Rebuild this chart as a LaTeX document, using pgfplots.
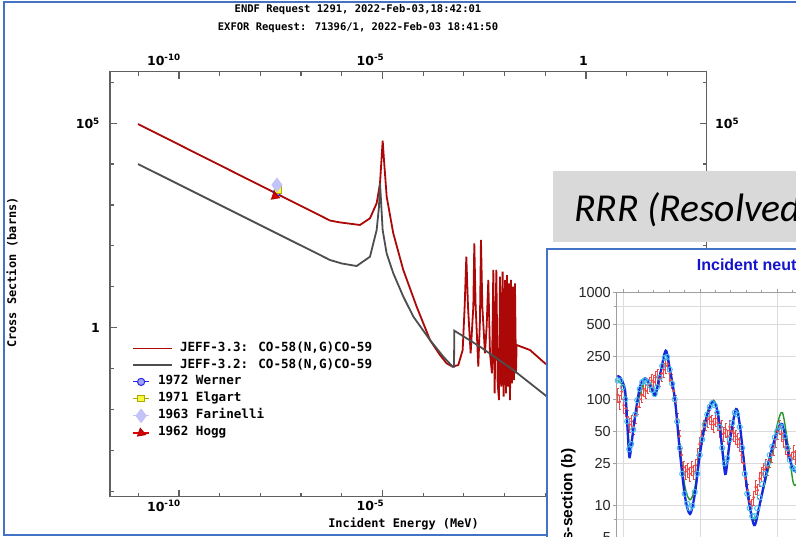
\documentclass[border=0pt]{standalone}
\usepackage{pgfplots}
\usepackage{pgfplotstable}
\pgfplotsset{compat=1.18}
\usepackage{fontspec}
\setmainfont{DejaVu Sans}
\newfontfamily\monofam{DejaVu Sans Mono}
\newfontfamily\tickfam{DejaVu Sans}
\newfontfamily\arialfam{Liberation Sans}
\newfontfamily\calfam{Carlito}
\definecolor{jeffred}{RGB}{172,8,8}
\definecolor{jeffgray}{RGB}{78,78,78}
\definecolor{axgray}{RGB}{96,96,96}
\definecolor{frameblue}{RGB}{68,114,196}
\definecolor{boxgray}{RGB}{217,217,217}
\definecolor{insetblue}{RGB}{20,20,205}
\definecolor{curveblue}{RGB}{20,40,220}
\definecolor{curvegreen}{RGB}{40,150,40}
\definecolor{circcyan}{RGB}{70,190,240}
\definecolor{ptred}{RGB}{240,70,70}
\definecolor{wernerblue}{RGB}{40,40,235}
\definecolor{wernerfill}{RGB}{160,160,255}
\definecolor{elgartfill}{RGB}{250,250,60}
\definecolor{elgartdraw}{RGB}{170,170,0}
\definecolor{farlav}{RGB}{195,195,250}
\definecolor{hoggred}{RGB}{225,0,0}

\pgfplotsset{
  longline legend/.style={legend image code/.code={\draw[##1] (0bp,0bp) -- (38.4bp,0bp);}},
  shortmark legend/.style={legend image code/.code={\draw[##1, mark repeat=2, mark phase=2] plot coordinates {(0bp,0bp) (7.7bp,0bp) (15.4bp,0bp)};}},
}

% JEFF-3.3 (log10 E [MeV], log10 sigma [b])
\pgfplotstableread{
lx ly
-11.007 4.980
-6.500 2.726
-6.290 2.620
-6.050 2.575
-5.880 2.553
-5.553 2.511
-5.307 2.675
-5.143 3.042
-5.061 3.531
-5.020 4.181
-4.995 4.572
-4.963 4.100
-4.897 3.203
-4.735 2.308
-4.489 1.411
-4.160 0.513
-3.833 -0.301
-3.587 -0.668
-3.424 -0.872
-3.276 -0.953
-3.137 -0.912
-3.030 -0.546
-2.981 0.514
-2.940 1.737
-2.899 0.514
-2.834 -0.627
-2.768 0.514
-2.744 2.062
-2.711 0.514
-2.646 -0.953
-2.605 0.188
-2.580 2.144
-2.547 0.514
-2.482 -0.627
-2.441 0.025
-2.400 1.166
-2.359 -0.627
-2.310 -1.116
-2.277 1.411
-2.244 -1.605
-2.203 1.411
-2.170 -1.361
-2.138 -1.768
-2.113 1.247
-2.080 -1.442
-2.048 1.370
-2.023 -1.686
-1.990 1.166
-1.966 -1.605
-1.941 1.288
-1.917 -1.442
-1.892 1.084
-1.867 -1.768
-1.843 1.166
-1.818 -1.361
-1.794 1.003
-1.769 -1.279
-1.745 1.084
-1.720 -1.116
-1.704 -0.423
-1.376 -0.546
-1.007 -0.871
-0.300 -1.300
}\redtab

% JEFF-3.2
\pgfplotstableread{
lx ly
-11.007 4.002
-6.500 1.760
-6.290 1.655
-6.000 1.570
-5.635 1.508
-5.307 1.736
-5.143 2.389
-5.086 2.959
-5.061 3.530
-5.037 3.122
-4.996 2.389
-4.898 1.818
-4.734 1.329
-4.488 0.759
-4.242 0.270
-3.833 -0.301
-3.505 -0.709
-3.276 -0.953
-3.243 -0.953
-3.235 -0.073
-2.605 -0.464
-1.786 -1.034
-1.007 -1.646
-0.300 -2.200
}\graytab

% inset curves (x in axis units, y in barns)
\pgfplotstableread{
x y
0.7 163
3.3 161
8.3 122
10.7 55.5
12.7 28.6
15.3 41.6
18.3 68.8
23.3 131
28.3 157
33.3 139
38.3 110
43.3 169
49 286
53.3 188
58.3 98.6
63.3 31.2
68.3 12.2
73.3 8.4
78.3 13.2
83.3 31.2
90 68.8
96.7 95
101.7 68.8
106.7 27
109 20
113.3 41.6
119.3 80.6
123.3 55.5
130 15.2
135 7.94
138.3 6.63
143.3 10.6
153.3 29
160 48
165.7 58.3
171.7 31.2
176.7 21.8
181.7 21.8
190 30
}\bluetab

\pgfplotstableread{
x y
0.7 150
5 140
8.3 110
12.7 36
16 48
20 85
28.3 150
33.3 135
38.3 107
43.3 165
49 270
53.3 180
58.3 95
63.3 35
68.3 15
73.3 11.4
78.3 15
83.3 35
90 72
96.7 98
101.7 72
106.7 30
109 22
113.3 42
119.3 82
123.3 56
130 16
136 7.6
140 8.2
148 16
155 30
160 55
165.7 75
171.7 35
176.7 16.3
181.7 17
190 25
}\greentab

\pgfplotstableread{
x y
1 150
3.5 150
6 130
8.5 100
10.5 62
12.5 34
14.5 38
16.5 52
18.5 72
20.5 98
23 125
25.5 145
28 150
30.5 145
33 135
35.5 122
38 112
40.5 130
43 160
45.5 205
48 245
50.5 250
53 190
55.5 140
58 100
60.5 62
63 35
65.5 20
68 13
70.5 10.5
73 9.5
75.5 10
78 13.5
80.5 20
83 30
85.5 42
88 58
90.5 72
93 85
95.5 92
98 88
100.5 75
103 55
105.5 35
108 25
110.5 28
113 42
115.5 60
118 75
120.5 72
123 55
125.5 35
128 20
130.5 13
133 9.5
135.5 8
138 8
140.5 9.5
143 12
145.5 16
148 20
150.5 25
153 30
155.5 36
158 44
160.5 50
163 56
165.5 55
168 45
170.5 35
173 27
175.5 23
178 22
180.5 22
}\cyantab

\pgfplotstableread{
x y
1 110
3 95
5 118
7 88
9 82
11 68
13 58
15 62
17 55
19 70
21 85
23 100
25 110
27 125
29 120
31 135
33 140
35 150
37 145
39 160
41 165
43 155
45 175
47 190
49 205
51 215
53 175
55 150
57 120
59 95
61 65
63 45
65 30
67 23
69 21
71 22
73 20
75 23
77 21
79 24
81 30
83 38
85 45
87 55
89 60
91 65
93 68
95 62
97 58
99 66
101 60
103 52
105 55
107 48
109 52
111 45
113 55
115 50
117 48
119 45
121 42
123 38
125 30
127 25
129 18
131 14
133 11
135 10
137 12
139 15
141 14
143 18
145 20
147 22
149 24
151 23
153 27
155 30
157 35
159 42
161 50
163 55
165 48
167 42
169 36
171 33
173 30
175 28
177 32
179 29
181 30
}\redpts

\newcommand{\tickf}{\tickfam\bfseries\fontsize{12.5bp}{14bp}\selectfont}
\newcommand{\monof}[1]{\monofam\bfseries\fontsize{#1}{#1}\selectfont}

\begin{document}
\begin{tikzpicture}[x=1bp,y=1bp]
\useasboundingbox (0,0) rectangle (796,537);
\fill[white] (0,0) rectangle (796,537);
\begin{scope}
\clip (0,0) rectangle (796,537);

% ---------------- main ENDF/EXFOR plot ----------------
\begin{axis}[
  at={(110bp,40.3bp)}, anchor=south west,
  scale only axis, width=596.7bp, height=425bp,
  xmode=log, ymode=log,
  xmin=2.018e-12, xmax=924.7, ymin=7.38e-5, ymax=1.816e6,
  axis line style={draw=axgray, line width=1.4bp},
  tick style={draw=axgray, line width=1.2bp},
  tick align=inside,
  major tick length=7bp, minor tick length=4bp,
  xtick={1e-10,1e-5,1},
  xticklabels={10\textsuperscript{-10},10\textsuperscript{-5},1},
  minor xtick={1e-11,1e-9,1e-8,1e-7,1e-6,1e-4,1e-3,1e-2,1e-1,10,100},
  ytick={1,1e5},
  yticklabels={1,10\textsuperscript{5}},
  minor ytick={1e-4,1e-3,1e-2,1e-1,10,100,1e3,1e4,1e6},
  xticklabel style={font=\tickf, anchor=north east, inner sep=0pt, xshift=2bp, yshift=-3.3bp},
  yticklabel style={font=\tickf, anchor=east, inner sep=0pt, xshift=-10bp},
  xlabel={Incident Energy (MeV)},
  xlabel style={font=\monof{11.9bp}, at={(axis description cs:0.4919,-0.065)}, anchor=center, inner sep=0pt},
  ylabel={Cross Section (barns)},
  ylabel style={font=\monof{11.9bp}, at={(axis description cs:-0.1642,0.5275)}, anchor=center, inner sep=0pt},
  title={ENDF Request 1291, 2022-Feb-03,18:42:01\\EXFOR Request: 71396/1, 2022-Feb-03 18:41:50},
  title style={align=center, font=\monofam\bfseries\fontsize{10.5bp}{18bp}\selectfont, at={(axis description cs:0.4156,1.11)}, anchor=center, inner sep=0pt},
  legend cell align=left,
  legend style={at={(axis description cs:0.0374,0.3633)}, anchor=north west, draw=none, fill=none,
    inner sep=0pt, row sep=4.7bp, column sep=7.3bp,
    font=\monof{12.6bp},
    nodes={inner sep=0pt, text height=9bp, text depth=3bp}},
]
\addplot[jeffred, line width=1.8bp, longline legend]
  table[x expr={10^(\thisrow{lx})}, y expr={10^(\thisrow{ly})}] {\redtab};
\addlegendentry{JEFF-3.3: CO-58(N,G)CO-59}
\addplot[jeffgray, line width=1.8bp, longline legend]
  table[x expr={10^(\thisrow{lx})}, y expr={10^(\thisrow{ly})}] {\graytab};
\addlegendentry{JEFF-3.2: CO-58(N,G)CO-59}
\addplot[wernerblue, line width=1.2bp, mark=*, mark size=3.6bp, mark options={fill=wernerfill, draw=wernerblue, line width=1bp}, shortmark legend]
  coordinates {(2.53e-8,2000)};
\addlegendentry{\hspace*{-22bp}1972 Werner}
\addplot[elgartdraw, line width=1.2bp, mark=square*, mark size=3.4bp, mark options={fill=elgartfill, draw=elgartdraw, line width=1bp}, shortmark legend]
  coordinates {(2.7e-8,2300)};
\addlegendentry{\hspace*{-22bp}1971 Elgart}
\addplot[farlav, line width=1.2bp, mark=diamond*, mark size=6.5bp, mark options={fill=farlav, draw=farlav}, shortmark legend]
  coordinates {(2.55e-8,3090)};
\addlegendentry{\hspace*{-22bp}1963 Farinelli}
\addplot[hoggred, line width=1.2bp, mark=triangle*, mark size=4.5bp, mark options={rotate=-110, fill=hoggred, draw=jeffred}, shortmark legend]
  coordinates {(2.3e-8,1650)};
\addlegendentry{\hspace*{-22bp}1962 Hogg}
\end{axis}

% duplicate frame carrying the top and right tick labels
\begin{axis}[
  at={(110bp,40.3bp)}, anchor=south west,
  scale only axis, width=596.7bp, height=425bp,
  xmode=log, ymode=log,
  xmin=2.018e-12, xmax=924.7, ymin=7.38e-5, ymax=1.816e6,
  axis line style={draw=axgray, line width=1.4bp},
  tick style={draw=axgray, line width=1.2bp},
  tick align=inside,
  major tick length=7bp, minor tick length=4bp,
  xtick={1e-10,1e-5,1},
  xticklabels={10\textsuperscript{-10},10\textsuperscript{-5},1},
  minor xtick={1e-11,1e-9,1e-8,1e-7,1e-6,1e-4,1e-3,1e-2,1e-1,10,100},
  ytick={1,1e5},
  yticklabels={1,10\textsuperscript{5}},
  minor ytick={1e-4,1e-3,1e-2,1e-1,10,100,1e3,1e4,1e6},
  xticklabel pos=upper, yticklabel pos=right,
  xticklabel style={font=\tickf, anchor=south east, inner sep=0pt, xshift=2bp, yshift=6bp},
  yticklabel style={font=\tickf, anchor=west, inner sep=0pt, xshift=8.3bp},
]
\addplot[draw=none] coordinates {(1,1)};
\end{axis}

% outer blue frame of the screenshot
\draw[frameblue, line width=2bp] (3.5,2) rectangle (820,534.5);

% grey banner
\fill[boxgray] (552.7,294.7) rectangle (820,366);
\node[anchor=base west, inner sep=0pt, font=\calfam\itshape\fontsize{39.6bp}{40bp}\selectfont] at (574,315.3) {RRR (Resolved Resonance Region)};

% inset panel
\filldraw[fill=white, draw=frameblue, line width=2bp] (546.5,288) rectangle (830,-30);
\begin{axis}[
  at={(616.7bp,-43.4bp)}, anchor=south west,
  scale only axis, width=380bp, height=287.7bp,
  ymode=log,
  xmin=0, xmax=380, ymin=2, ymax=1000,
  axis line style={draw=gray!75, line width=0.9bp},
  tick style={draw=gray!75, line width=0.8bp},
  tick align=outside,
  major tick length=4bp, minor tick length=3bp,
  xtick={6.3,83.3,160.3,237.3,314.3}, xticklabels={},
  minor x tick num=4,
  ytick={5,10,25,50,100,250,500,1000},
  yticklabels={5,10,25,50,100,250,500,1000},
  minor ytick={7.5,750},
  xmajorgrids, ymajorgrids, yminorgrids,
  major grid style={gray!28, line width=0.8bp},
  minor grid style={gray!28, line width=0.8bp},
  yticklabel style={font=\arialfam\fontsize{14.5bp}{15bp}\selectfont, text=black!85, anchor=east, inner sep=0pt, xshift=-1.7bp},
  ylabel={Cross-section (b)},
  ylabel style={font=\arialfam\bfseries\fontsize{15.5bp}{16bp}\selectfont, at={(axis description cs:-0.127,0.459)}, anchor=east, inner sep=0pt},
  title={Incident neutron energy (eV)},
  title style={font=\arialfam\bfseries\fontsize{16bp}{16bp}\selectfont, text=insetblue, at={(axis description cs:0.2105,1.0556)}, anchor=base west, inner sep=0pt},
]
\addplot[only marks, mark=*, mark size=1.2bp, ptred, mark options={fill=ptred, draw=ptred},
  error bars/.cd, y dir=both, y fixed relative=0.15, error bar style={ptred, line width=0.7bp}] table {\redpts};
\addplot[only marks, mark=o, mark size=2.6bp, circcyan, mark options={line width=0.9bp}] table {\cyantab};
\addplot[curvegreen, line width=1.4bp, smooth, tension=0.5] table {\greentab};
\addplot[curveblue, line width=2.3bp, smooth, tension=0.5] table {\bluetab};
\end{axis}

\end{scope}
\end{tikzpicture}
\end{document}
